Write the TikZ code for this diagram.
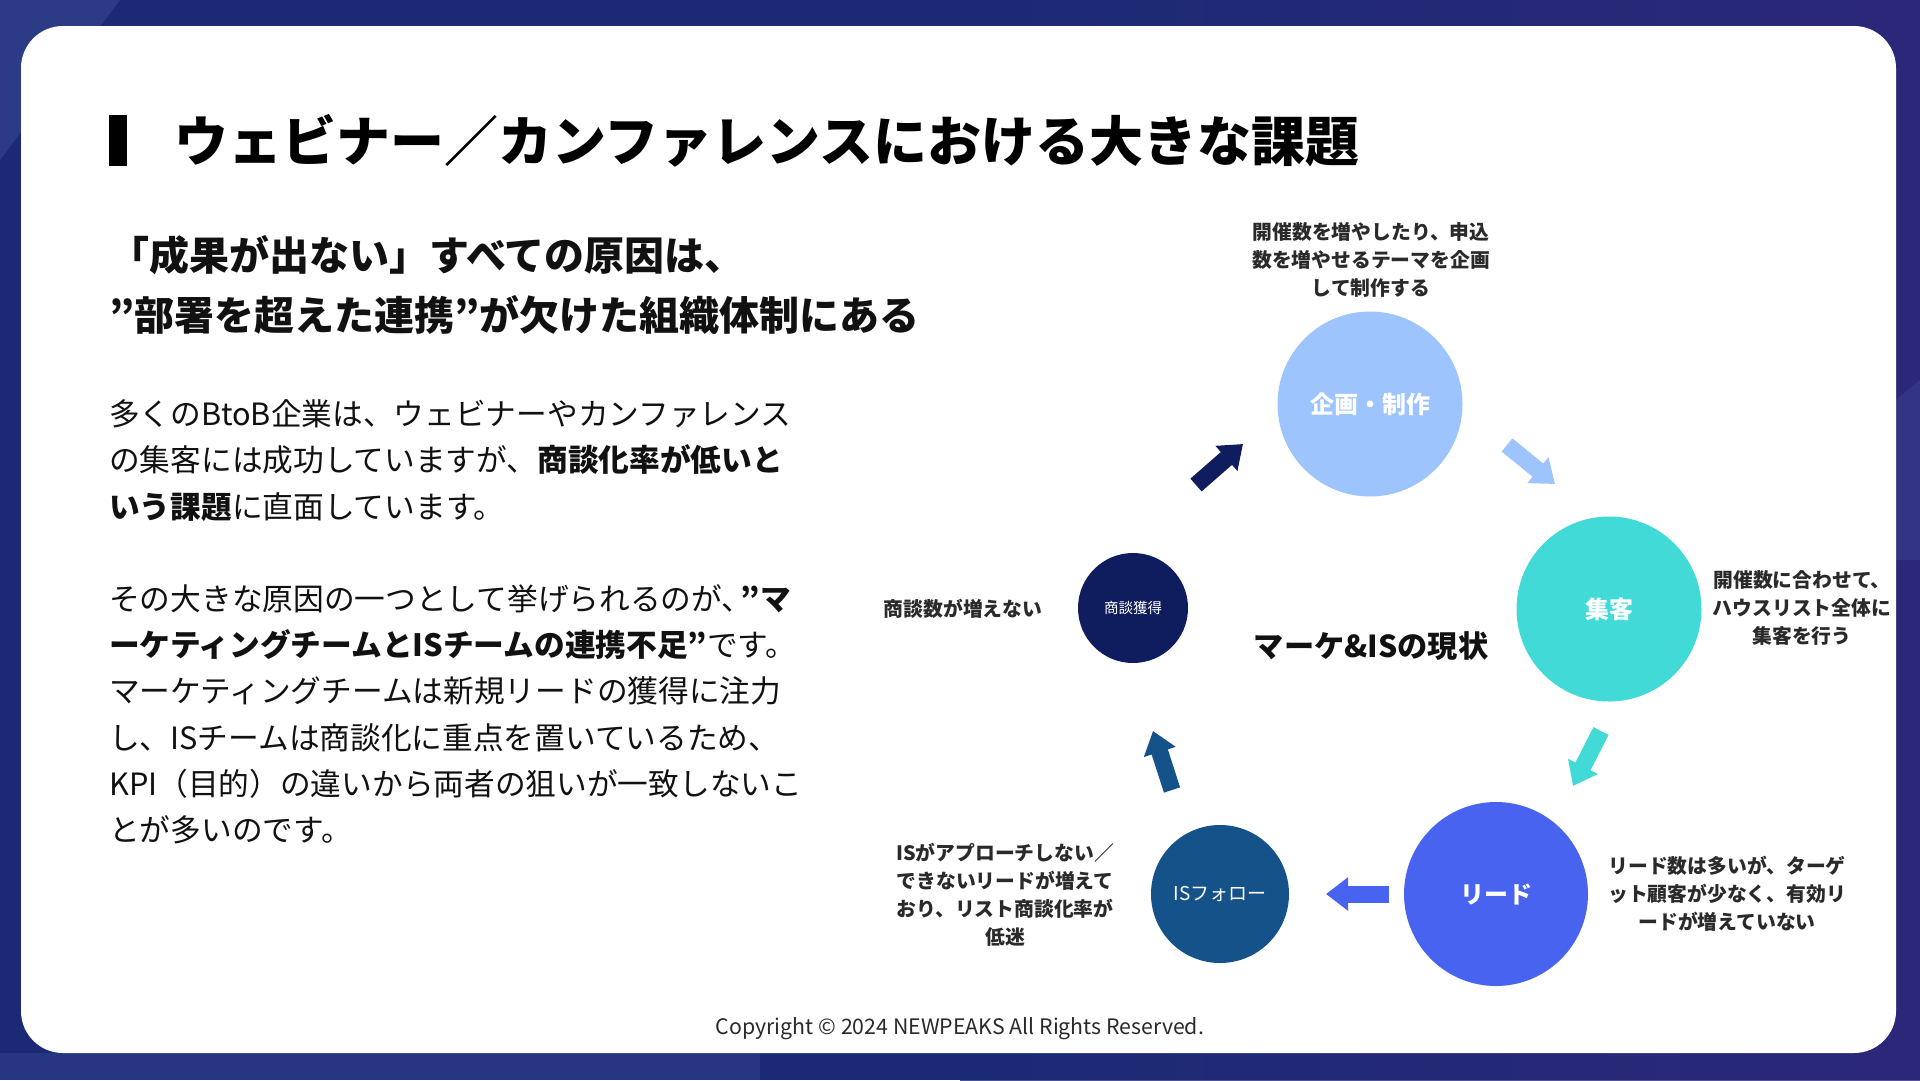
\documentclass[tikz,border=0pt]{standalone}
\usepackage{fontspec}
\setmainfont{Noto Sans CJK JP}
\usetikzlibrary{arrows.meta}
\definecolor{bgnavy}{HTML}{1C2A75}
\definecolor{bgpurple}{HTML}{30287A}
\definecolor{bglight}{HTML}{4A5CA8}
\definecolor{ckikaku}{HTML}{9DC4FD}
\definecolor{cshuukyaku}{HTML}{41DAD7}
\definecolor{clead}{HTML}{4863F0}
\definecolor{cisf}{HTML}{16528A}
\definecolor{cshoudan}{HTML}{0F1D5F}
\definecolor{txt}{HTML}{111111}
\definecolor{note}{HTML}{2A2A2A}
\newcommand\fsz[2]{\fontsize{#1pt}{#2pt}\selectfont}
\tikzset{
  bubble/.style={circle, inner sep=0pt, text=white},
  notetext/.style={align=center, inner sep=0pt, text=note, font=\fsz{19.8}{28}\bfseries},
  bigarrow/.style={line width=17pt, line cap=butt, -{Triangle[width=32pt,length=22pt]}},
}
\begin{document}
\begin{tikzpicture}[x=1pt,y=-1pt]
\useasboundingbox (0,0) rectangle (1920,1080);
% background
\fill[bgnavy] (0,0) rectangle (1920,1080);
\shade[left color=bgnavy, right color=bgpurple, opacity=0.8] (960,0) rectangle (1920,1080);
\fill[bglight, opacity=0.35] (0,0) -- (120,0) -- (0,160) -- cycle;
\fill[bglight, opacity=0.25] (1896,400) -- (1920,380) -- (1920,560) -- (1896,560) -- cycle;
\fill[bglight, opacity=0.25] (0,1053) rectangle (760,1080);
% card
\fill[white, rounded corners=42pt] (21,26) rectangle (1896,1053);
% title
\fill[black] (109,115) rectangle (127,166);
\node[anchor=base west, inner sep=0pt, text=black, font=\fsz{54}{60}\bfseries] (title) at (174,161.5) {ウェビナー／カンファレンスにおける大きな課題};
% sub heading
\node[anchor=base west, inner sep=0pt, text=txt, font=\fsz{40}{48}\bfseries] (sub1) at (109,270) {「成果が出ない」すべての原因は、};
\node[anchor=base west, inner sep=0pt, text=txt, font=\fsz{40}{48}\bfseries] (sub2) at (109,330) {”部署を超えた連携”が欠けた組織体制にある};
% body
\node[anchor=west, align=left, inner sep=0pt, text=txt, font=\fsz{30.7}{46.2}] (body) at (109,622) {%
多くのBtoB企業は、ウェビナーやカンファレンス\\
の集客には成功していますが、\textbf{商談化率が低いと}\\
\textbf{いう課題}に直面しています。\\[46.2pt]
その大きな原因の一つとして挙げられるのが、\kern-0.38em\textbf{”マ}\\
\textbf{ーケティングチームとISチームの連携不足”}です。\\
マーケティングチームは新規リードの獲得に注力\\
し、ISチームは商談化に重点を置いているため、\\
KPI（目的）の違いから両者の狙いが一致しないこ\\
とが多いのです。};
% circles
\node[bubble, fill=ckikaku, minimum size=185pt, font=\fsz{24}{28}\bfseries] (kikaku) at (1370,404) {企画・制作};
\node[bubble, fill=cshuukyaku, minimum size=185pt, font=\fsz{24}{28}\bfseries] (shuukyaku) at (1609,609) {集客};
\node[bubble, fill=clead, minimum size=184pt, font=\fsz{24}{28}\bfseries] (lead) at (1496,894) {リード};
\node[bubble, fill=cisf, minimum size=138pt, font=\fsz{19}{22}] (isf) at (1220,894) {ISフォロー};
\node[bubble, fill=cshoudan, minimum size=110pt, font=\fsz{14.5}{17}] (shoudan) at (1133,608) {商談獲得};
% centre label
\node[inner sep=0pt, text=txt, font=\fsz{30.2}{34}\bfseries] (center) at (1371,646) {マーケ\&ISの現状};
% notes
\node[notetext] (nkikaku) at (1371,260) {開催数を増やしたり、申込\\数を増やせるテーマを企画\\して制作する};
\node[notetext] (nshuukyaku) at (1802,608) {開催数に合わせて、\\ハウスリスト全体に\\集客を行う};
\node[notetext] (nlead) at (1727,894) {リード数は多いが、ターゲ\\ット顧客が少なく、有効リ\\ードが増えていない};
\node[notetext] (nisf) at (1005,895) {ISがアプローチしない／\\できないリードが増えて\\おり、リスト商談化率が\\低迷};
\node[notetext] (nshoudan) at (963,609) {商談数が増えない};
% arrows
\coordinate (a1s) at (1196,485); \coordinate (a1e) at (1243,444);
\coordinate (a2s) at (1507,445); \coordinate (a2e) at (1555,484);
\coordinate (a3s) at (1601,731); \coordinate (a3e) at (1573,786);
\coordinate (a4s) at (1389,894); \coordinate (a4e) at (1326,894);
\coordinate (a5s) at (1172,790); \coordinate (a5e) at (1153,731);
\draw[bigarrow, draw=cshoudan, fill=cshoudan] (a1s) -- (a1e);
\draw[bigarrow, draw=ckikaku, fill=ckikaku] (a2s) -- (a2e);
\draw[bigarrow, draw=cshuukyaku, fill=cshuukyaku] (a3s) -- (a3e);
\draw[bigarrow, draw=clead, fill=clead] (a4s) -- (a4e);
\draw[bigarrow, draw=cisf, fill=cisf] (a5s) -- (a5e);
% copyright
\node[inner sep=0pt, text=note, font=\fsz{21.3}{25}] (copy) at (960,1029) {Copyright © 2024 NEWPEAKS All Rights Reserved.};
\end{tikzpicture}
\end{document}
